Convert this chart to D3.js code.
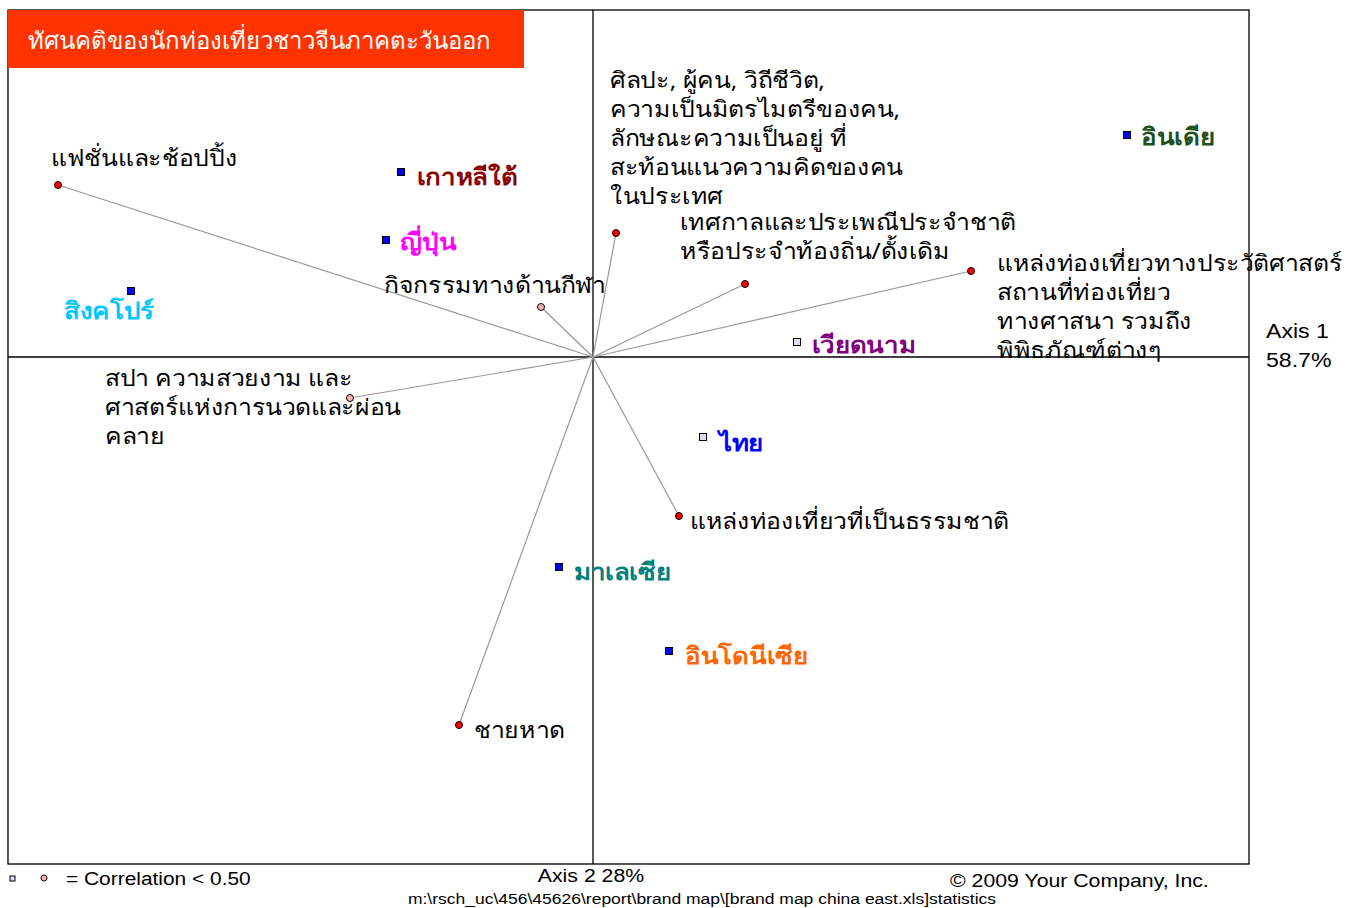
<!DOCTYPE html>
<html>
<head>
<meta charset="utf-8">
<script src="https://cdn.jsdelivr.net/npm/d3@7"></script>
<style>
  body { margin: 0; background: #fff; }
  svg { font-family: "Noto Sans", "DejaVu Sans", sans-serif; }
</style>
</head>
<body>
<div id="map"></div>
<script>
// attributes (vectors from the origin)
const attrNames = [
  ["แฟชั่นและช้อปปิ้ง"],
  ["กิจกรรมทางด้านกีฬา"],
  ["ศิลปะ, ผู้คน, วิถีชีวิต,", "ความเป็นมิตรไมตรีของคน,", "ลักษณะความเป็นอยู่ ที่", "สะท้อนแนวความคิดของคน", "ในประเทศ"],
  ["เทศกาลและประเพณีประจำชาติ", "หรือประจำท้องถิ่น/ดั้งเดิม"],
  ["แหล่งท่องเที่ยวทางประวัติศาสตร์", "สถานที่ท่องเที่ยว", "ทางศาสนา รวมถึง", "พิพิธภัณฑ์ต่างๆ"],
  ["สปา ความสวยงาม และ", "ศาสตร์แห่งการนวดและผ่อน", "คลาย"],
  ["แหล่งท่องเที่ยวที่เป็นธรรมชาติ"],
  ["ชายหาด"]
];
const attrX = [-1.07, -0.104, 0.046, 0.304, 0.756, -0.486, 0.172, -0.268];
const attrY = [0.344, 0.100, 0.248, 0.146, 0.172, -0.082, -0.318, -0.736];
const attrLowCorr = [false, true, false, false, false, true, false, false];

// countries (points)
const countryNames = ["อินเดีย", "เกาหลีใต้", "ญี่ปุ่น", "สิงคโปร์", "เวียดนาม", "ไทย", "มาเลเซีย", "อินโดนีเซีย"];
const countryX = [1.068, -0.384, -0.414, -0.924, 0.408, 0.220, -0.068, 0.152];
const countryY = [0.444, 0.370, 0.234, 0.132, 0.030, -0.160, -0.420, -0.588];
const countryLowCorr = [false, false, false, false, true, true, false, false];

const title = "ทัศนคติของนักท่องเที่ยวชาวจีนภาคตะวันออก";
const axis1Label = ["Axis 1", "58.7%"];
const axis2Label = "Axis 2 28%";

// label styling / placement (not data)
const countryColors = ["#1f4f1f", "#8b0000", "#ff00ff", "#00c8ff", "#800080", "#0000ff", "#008080", "#ff6600"];
const countryOffsets = [[14, 10], [16, 13], [14, 10], [-67, 28], [15, 11], [16, 14], [15, 13], [16, 13]];
const attrOffsets = [[-7, -19], [-157, -14], [-6, -145], [-65, -54], [26, 0], [-245, -12], [11, 13], [15, 13]];
const lineH = 29;
const sx = 1.1; // the reference text is a little wider than tall

const W = 1355, H = 908;
const frame = {left: 8, right: 1249, top: 10, bottom: 864};

const svg = d3.select("#map").append("svg")
    .attr("width", W)
    .attr("height", H);

const x = d3.scaleLinear().domain([-1.17, 1.312]).range([frame.left, frame.right]);
const y = d3.scaleLinear().domain([0.694, -1.014]).range([frame.top, frame.bottom]);

const at = (px, py, s) => `translate(${px},${py}) scale(${s},1)`;

// frame
svg.append("rect")
    .attr("x", frame.left).attr("y", frame.top)
    .attr("width", frame.right - frame.left)
    .attr("height", frame.bottom - frame.top)
    .attr("fill", "none")
    .attr("stroke", "#000")
    .attr("stroke-width", 1.3);

// axes through origin
svg.append("line")
    .attr("x1", frame.left).attr("x2", frame.right)
    .attr("y1", y(0)).attr("y2", y(0))
    .attr("stroke", "#000").attr("stroke-width", 1.3);
svg.append("line")
    .attr("x1", x(0)).attr("x2", x(0))
    .attr("y1", frame.top).attr("y2", frame.bottom)
    .attr("stroke", "#000").attr("stroke-width", 1.3);

// title box
svg.append("rect")
    .attr("x", frame.left).attr("y", frame.top)
    .attr("width", 516).attr("height", 58)
    .attr("fill", "#ff3300");
svg.append("text")
    .attr("x", 28).attr("y", 49)
    .attr("fill", "#fff")
    .attr("font-size", 24)
    .text(title);

const attrs = attrNames.map((n, i) => ({name: n, x: attrX[i], y: attrY[i], low: attrLowCorr[i], off: attrOffsets[i]}));
const countries = countryNames.map((n, i) => ({name: n, x: countryX[i], y: countryY[i], low: countryLowCorr[i], color: countryColors[i], off: countryOffsets[i]}));

// vectors
svg.selectAll(".vec")
    .data(attrs)
    .join("line")
    .attr("class", "vec")
    .attr("x1", x(0)).attr("y1", y(0))
    .attr("x2", d => x(d.x)).attr("y2", d => y(d.y))
    .attr("stroke", "#999")
    .attr("stroke-width", 1.2);

// attribute labels
svg.selectAll(".alabel")
    .data(attrs)
    .join("text")
    .attr("class", "alabel")
    .attr("font-size", 22.5)
    .attr("fill", "#000")
    .attr("transform", d => at(x(d.x) + d.off[0], y(d.y) + d.off[1], sx))
    .each(function(d) {
        d3.select(this).selectAll("tspan")
            .data(d.name)
            .join("tspan")
            .attr("x", 0)
            .attr("y", (t, j) => j * lineH)
            .text(t => t);
    });

// attribute endpoints
svg.selectAll(".adot")
    .data(attrs)
    .join("circle")
    .attr("class", "adot")
    .attr("cx", d => x(d.x)).attr("cy", d => y(d.y))
    .attr("r", 3.5)
    .attr("fill", d => d.low ? "#ffb0b0" : "#ff0000")
    .attr("stroke", "#000")
    .attr("stroke-width", 1);

// countries
svg.selectAll(".cpt")
    .data(countries)
    .join("rect")
    .attr("class", "cpt")
    .attr("x", d => x(d.x) - 3.5).attr("y", d => y(d.y) - 3.5)
    .attr("width", 7).attr("height", 7)
    .attr("fill", d => d.low ? "#dde" : "#0000ff")
    .attr("stroke", "#000")
    .attr("stroke-width", 1);

svg.selectAll(".clabel")
    .data(countries)
    .join("text")
    .attr("class", "clabel")
    .attr("transform", d => at(x(d.x) + d.off[0], y(d.y) + d.off[1], sx))
    .attr("font-size", 23.5)
    .attr("font-weight", "bold")
    .attr("fill", d => d.color)
    .text(d => d.name);

// axis titles
const arial = "Arial, 'Liberation Sans', sans-serif";
svg.append("text")
    .attr("font-family", arial)
    .attr("font-size", 21)
    .attr("transform", at(1266, 338, sx))
    .selectAll("tspan")
    .data(axis1Label)
    .join("tspan")
    .attr("x", 0)
    .attr("y", (d, i) => i * 29)
    .text(d => d);

svg.append("text")
    .attr("font-family", arial)
    .attr("font-size", 19)
    .attr("text-anchor", "middle")
    .attr("transform", at(591, 882, 1.12))
    .text(axis2Label);

// legend
svg.append("rect")
    .attr("x", 10).attr("y", 876).attr("width", 5).attr("height", 5)
    .attr("fill", "#dde").attr("stroke", "#000").attr("stroke-width", 1);
svg.append("circle")
    .attr("cx", 44).attr("cy", 878).attr("r", 3)
    .attr("fill", "#ffb0b0").attr("stroke", "#000").attr("stroke-width", 1);
svg.append("text")
    .attr("font-family", arial)
    .attr("font-size", 19)
    .attr("transform", at(66, 885, 1.1))
    .text("= Correlation < 0.50");

svg.append("text")
    .attr("font-family", arial)
    .attr("font-size", 19)
    .attr("transform", at(950, 887, 1.12))
    .text("© 2009 Your Company, Inc.");

svg.append("text")
    .attr("font-family", arial)
    .attr("font-size", 15.5)
    .attr("text-anchor", "middle")
    .attr("transform", at(702, 904, 1.13))
    .text("m:\\rsch_uc\\456\\45626\\report\\brand map\\[brand map china east.xls]statistics");
</script>
</body>
</html>
